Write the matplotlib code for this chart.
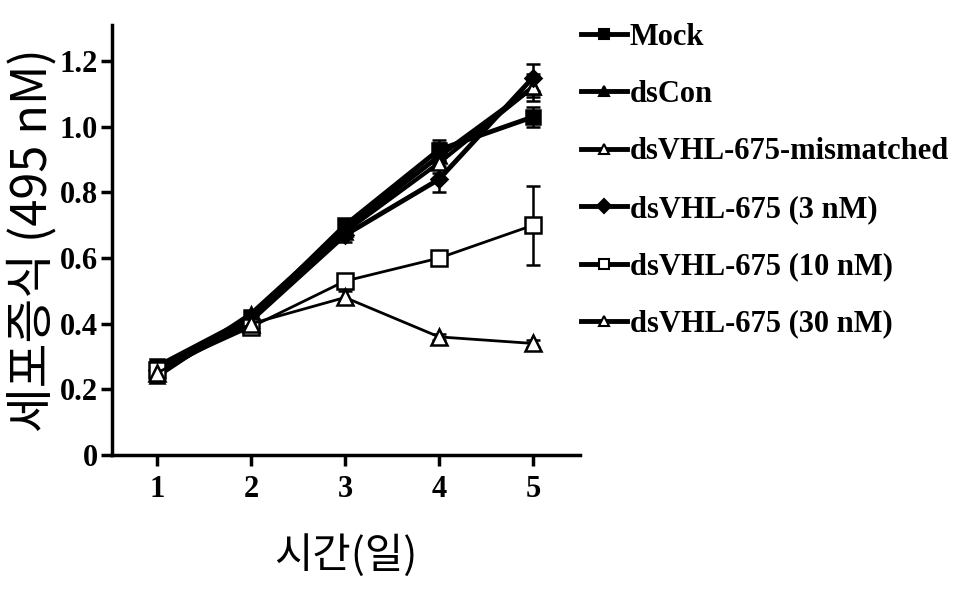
import matplotlib.pyplot as plt
from matplotlib.lines import Line2D

days = [1, 2, 3, 4, 5]
labels = ['Mock', 'dsCon', 'dsVHL-675-mismatched', 'dsVHL-675 (3 nM)',
          'dsVHL-675 (10 nM)', 'dsVHL-675 (30 nM)']
mock = [0.27, 0.42, 0.70, 0.93, 1.03]
dscon = [0.24, 0.43, 0.69, 0.91, 1.12]
mismatch = [0.25, 0.41, 0.68, 0.89, 1.12]
nm3 = [0.26, 0.41, 0.67, 0.84, 1.15]
nm10 = [0.26, 0.39, 0.53, 0.60, 0.70]
nm30 = [0.25, 0.40, 0.48, 0.36, 0.34]
err_mock = [0.01, 0.01, 0.02, 0.03, 0.03]
err_dscon = [0.01, 0.01, 0.02, 0.04, 0.04]
err_mis = [0.01, 0.01, 0.02, 0.03, 0.03]
err_3 = [0.01, 0.01, 0.02, 0.04, 0.04]
err_10 = [0.01, 0.01, 0.02, 0.02, 0.12]
err_30 = [0.01, 0.01, 0.02, 0.01, 0.01]

fig = plt.figure(figsize=(9.65, 6.1), dpi=100)
ax = fig.add_axes([0.116, 0.254, 0.485, 0.705])

series = [
    (mock, err_mock, 's', 'black', 3.5, 10),
    (dscon, err_dscon, '^', 'black', 3.5, 10),
    (mismatch, err_mis, '^', 'white', 3.0, 10),
    (nm3, err_3, 'D', 'black', 3.5, 8),
    (nm10, err_10, 's', 'white', 2.0, 12),
    (nm30, err_30, '^', 'white', 2.0, 12),
]
handles = []
for (vals, err, mk, fc, lw, ms), lab in zip(series, labels):
    ax.errorbar(days, vals, yerr=err, color='black', marker=mk, mfc=fc, mec='black',
                mew=1.8, ms=ms, lw=lw, elinewidth=1.8, capsize=5, capthick=1.8)
    handles.append(Line2D([], [], color='black', lw=3.5, marker=mk, mfc=fc,
                          mec='black', mew=1.5, ms=7))

ax.set_xlim(0.52, 5.5)
ax.set_ylim(0, 1.31)
ax.set_xticks(days)
ax.set_yticks([0, 0.2, 0.4, 0.6, 0.8, 1.0, 1.2])
ax.set_yticklabels(['0', '0.2', '0.4', '0.6', '0.8', '1.0', '1.2'])
for s in ['top', 'right']:
    ax.spines[s].set_visible(False)
for s in ['left', 'bottom']:
    ax.spines[s].set_linewidth(2.5)
ax.tick_params(width=2.5, length=8, labelsize=22)
for t in ax.get_xticklabels() + ax.get_yticklabels():
    t.set_family('Liberation Serif')
    t.set_weight('bold')
ax.tick_params(axis='x', pad=6)
ax.tick_params(axis='y', pad=2)

ax.set_xlabel('시간(일)', family='Noto Sans CJK KR', fontsize=30, labelpad=22)
ax.set_ylabel('세포증식 (495 nM)', family='Noto Sans CJK KR', fontsize=35, labelpad=2)

fig.legend(handles, labels, loc='upper left', bbox_to_anchor=(0.58, 0.998), frameon=False,
           prop={'family': 'Liberation Serif', 'weight': 'bold', 'size': 22},
           handlelength=1.5, handletextpad=0.1, labelspacing=0.93, borderaxespad=0.3)

fig.savefig('out.png', dpi=100)
